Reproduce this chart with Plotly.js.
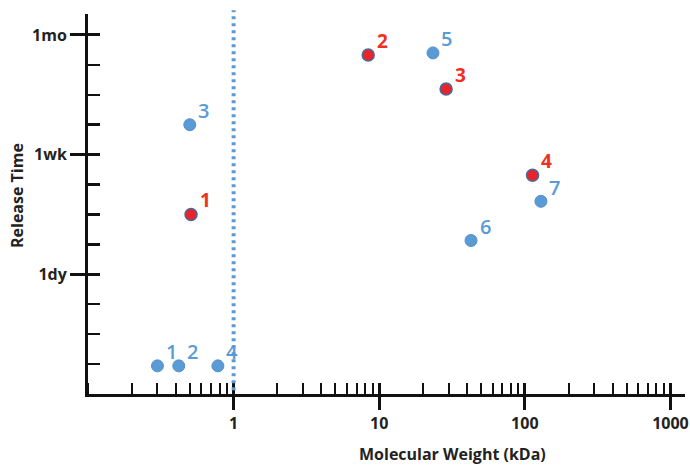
<!DOCTYPE html>
<html>
<head>
<meta charset="utf-8">
<script src="https://cdn.plot.ly/plotly-3.0.1.min.js"></script>
<style>html,body{margin:0;padding:0;background:#fff;}#chart{width:690px;height:466px;}</style>
</head>
<body>
<div id="chart"></div>
<script>
// Molecular weight (kDa) and release time (tick units: 4 = 1dy, 8 = 1wk, 12 = 1mo)
const blueLabels = ["1", "2", "3", "4", "5", "6", "7"];
const blueMW     = [0.30, 0.42, 0.50, 0.78, 23.4, 42.7, 129];
const blueTime   = [0.94, 0.94, 9.0, 0.94, 11.4, 5.13, 6.44];

const redLabels  = ["1", "2", "3", "4"];
const redMW      = [0.51, 8.4, 28.8, 113];
const redTime    = [6.0, 11.33, 10.19, 7.31];

const yTickVals  = [4, 8, 12];
const yTickText  = ["1dy", "1wk", "1mo"];
const yMinorVals = [1, 2, 3, 5, 6, 7, 9, 10, 11];
const xTickVals  = [1, 10, 100, 1000];
const xTickText  = ["1", "10", "100", "1000"];
const cutoffMW   = 1;

const BLUE = "#5b9bd5", RED = "#e5242b", LABEL_RED = "#ee3124";
const FONT = "'Open Sans', Lato, sans-serif";

const traces = [
  { x: blueMW, y: blueTime, mode: "markers", type: "scatter", xaxis: "x", yaxis: "y",
    marker: { color: BLUE, size: 12, line: { color: "#5590c8", width: 1 } }, hoverinfo: "none" },
  { x: redMW, y: redTime, mode: "markers", type: "scatter", xaxis: "x", yaxis: "y",
    marker: { color: RED, size: 12, line: { color: "#4a6a9a", width: 1.5 } }, hoverinfo: "none" },
  // invisible trace to activate overlay axes (inner half of major ticks)
  { x: [cutoffMW], y: [yTickVals[0]], xaxis: "x2", yaxis: "y2", mode: "markers",
    marker: { opacity: 0 }, hoverinfo: "none" }
];

const annotations = [];
blueLabels.forEach((t, i) => annotations.push({
  x: Math.log10(blueMW[i]), y: blueTime[i], xref: "x", yref: "y", text: t, showarrow: false,
  xshift: 14, yshift: 14, font: { family: FONT, size: 20, color: BLUE, weight: 600 }
}));
redLabels.forEach((t, i) => annotations.push({
  x: Math.log10(redMW[i]), y: redTime[i], xref: "x", yref: "y", text: t, showarrow: false,
  xshift: 14, yshift: 14, font: { family: FONT, size: 19, color: LABEL_RED, weight: 700 }
}));
annotations.push({
  text: "Molecular Weight (kDa)", xref: "paper", yref: "paper", x: 0.61, y: 0,
  xanchor: "center", yshift: -60, yanchor: "middle", showarrow: false,
  font: { family: FONT, size: 16, color: "#222", weight: 700 }
});
annotations.push({
  text: "Release Time", xref: "paper", yref: "paper", x: 0, xshift: -71, y: 0.521,
  xanchor: "center", yanchor: "middle", textangle: -90, showarrow: false,
  font: { family: FONT, size: 16, color: "#222", weight: 700 }
});

const xr = [-1, 3.1];
const yr = [0, 12.7];

const layout = {
  width: 690, height: 466,
  margin: { l: 88, r: 5, t: 14, b: 72 },
  paper_bgcolor: "#fff", plot_bgcolor: "#fff",
  showlegend: false,
  xaxis: {
    type: "log", range: xr, showgrid: false, zeroline: false,
    showline: true, linecolor: "#111", linewidth: 3,
    tickvals: xTickVals, ticktext: xTickText, ticks: "outside", ticklen: 13, tickwidth: 3, tickcolor: "#111",
    tickfont: { family: FONT, size: 16, color: "#222", weight: 700 },
    minor: { ticks: "inside", ticklen: 11, tickwidth: 2, tickcolor: "#111", dtick: "D1", showgrid: false }
  },
  yaxis: {
    range: yr, showgrid: false, zeroline: false,
    showline: true, linecolor: "#111", linewidth: 3,
    tickvals: yTickVals, ticktext: yTickText, ticks: "outside", ticklen: 15, tickwidth: 3, tickcolor: "#111",
    tickfont: { family: FONT, size: 16, color: "#222", weight: 700 },
    minor: { ticks: "inside", ticklen: 12, tickwidth: 2.5, tickcolor: "#111", tickvals: yMinorVals, showgrid: false }
  },
  xaxis2: {
    type: "log", range: xr, overlaying: "x", anchor: "y2", showgrid: false, zeroline: false,
    showline: false, tickvals: xTickVals, showticklabels: false,
    ticks: "inside", ticklen: 11, tickwidth: 3, tickcolor: "#111"
  },
  yaxis2: {
    range: yr, overlaying: "y", anchor: "x2", showgrid: false, zeroline: false,
    showline: false, tickvals: yTickVals, showticklabels: false,
    ticks: "inside", ticklen: 12, tickwidth: 3, tickcolor: "#111"
  },
  shapes: [{
    type: "line", xref: "x", yref: "paper", x0: cutoffMW, x1: cutoffMW, y0: 0.01, y1: 1.01,
    line: { color: BLUE, width: 4, dash: "3px,4px" }
  }],
  annotations: annotations
};

Plotly.newPlot("chart", traces, layout, { displayModeBar: false, staticPlot: true });
</script>
</body>
</html>
